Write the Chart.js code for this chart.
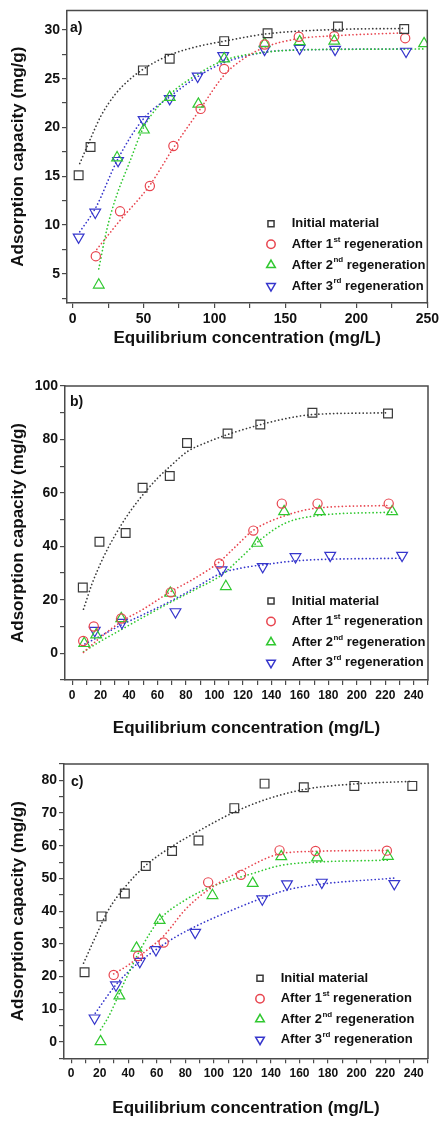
<!DOCTYPE html>
<html><head><meta charset="utf-8">
<script src="https://cdn.jsdelivr.net/npm/chart.js@4.4.0/dist/chart.umd.min.js"></script>
<style>
html,body{margin:0;padding:0;background:#fff;}
body{width:442px;height:1122px;position:relative;overflow:hidden;}
canvas{position:absolute;left:0;}
</style></head><body>
<canvas id="ca" width="442" height="350" style="top:0px"></canvas>
<canvas id="cb" width="442" height="390" style="top:350px"></canvas>
<canvas id="cc" width="442" height="382" style="top:740px"></canvas>
<script>
// ---------- Legend / text ----------
const seriesMain = ['Initial material', 'After 1', 'After 2', 'After 3'];
const seriesSup  = ['', 'st', 'nd', 'rd'];
const seriesTail = ['', ' regeneration', ' regeneration', ' regeneration'];
const xTitle = 'Equilibrium concentration (mg/L)';
const yTitle = 'Adsorption capacity (mg/g)';

// ---------- Panel a ----------
const aInitX = [4.2, 12.6, 49.5, 68.4, 106.8, 137.4, 187.0, 233.7];
const aInitY = [15.1, 18.0, 25.85, 27.05, 28.85, 29.65, 30.35, 30.1];
const aR1X = [16.3, 33.4, 54.4, 71.0, 90.2, 106.8, 135.3, 159.4, 184.4, 234.4];
const aR1Y = [6.8, 11.4, 14.0, 18.1, 21.9, 26.0, 28.5, 29.3, 29.35, 29.15];
const aR2X = [18.4, 31.3, 50.2, 68.4, 88.6, 106.8, 135.3, 160.0, 184.4, 247.7];
const aR2Y = [3.85, 16.9, 19.75, 23.1, 22.4, 27.05, 28.6, 28.8, 28.85, 28.6];
const aR3X = [4.2, 15.9, 32.0, 50.0, 68.4, 88.1, 106.1, 135.3, 160.0, 185.0, 235.0];
const aR3Y = [8.75, 11.3, 16.6, 20.8, 22.95, 25.25, 27.35, 28.0, 28.1, 28.0, 27.8];
// fitted curves
const aFitInitX = [5, 13, 20, 30, 40, 50, 68, 88, 107, 137, 187, 234];
const aFitInitY = [16.3, 19.0, 21.2, 23.4, 24.9, 26.0, 27.4, 28.3, 28.85, 29.6, 30.05, 30.15];
const aFitR1X = [17, 33, 54, 71, 90, 107, 120, 135, 159, 184, 234];
const aFitR1Y = [7.5, 10.4, 14.0, 17.9, 21.9, 25.4, 27.0, 28.2, 29.1, 29.4, 29.7];
const aFitR2X = [18.4, 24, 30, 40, 50, 68, 88.6, 107, 135, 160, 185, 249];
const aFitR2Y = [5.5, 9.5, 12.6, 16.4, 20.0, 23.3, 25.5, 26.9, 27.7, 27.95, 28.0, 28.05];
const aFitR3X = [5, 16, 32, 50, 68, 88, 106, 135, 160, 235];
const aFitR3Y = [9.3, 11.7, 16.8, 20.9, 23.1, 25.2, 26.6, 27.7, 27.95, 28.05];
const aXMajor = [0, 50, 100, 150, 200, 250];
const aXMinor = [25, 75, 125, 175, 225];
const aYMajor = [5, 10, 15, 20, 25, 30];
const aYMinor = [2.5, 7.5, 12.5, 17.5, 22.5, 27.5];

// ---------- Panel b ----------
const bInitX = [7.5, 19.2, 37.6, 49.5, 68.6, 80.7, 109.2, 132.2, 168.8, 221.9];
const bInitY = [24.6, 41.7, 45.0, 61.9, 66.3, 78.7, 82.2, 85.6, 90.0, 89.7];
const bR1X = [7.8, 15.2, 34.5, 69.3, 103.3, 127.3, 147.3, 172.4, 222.4];
const bR1Y = [4.6, 10.0, 13.0, 22.8, 33.6, 45.9, 56.0, 56.0, 56.0];
const bR2X = [8.5, 16.9, 34.5, 69.0, 108.0, 130.0, 148.9, 173.8, 224.8];
const bR2Y = [3.7, 6.9, 13.0, 22.5, 25.0, 41.2, 53.0, 53.0, 53.0];
const bR3X = [15.9, 35.0, 72.6, 105.0, 133.9, 156.9, 181.3, 231.8];
const bR3Y = [8.5, 11.5, 15.5, 31.2, 32.4, 36.1, 36.6, 36.6];
const bFitInitX = [8, 14, 21.6, 30, 40, 50, 60, 70, 81, 95, 109, 132, 155, 169, 222];
const bFitInitY = [16.5, 26, 35.5, 44, 52.5, 59.5, 65.5, 70.5, 75.5, 79, 81.8, 85.5, 88.3, 89.3, 90.0];
const bFitR1X = [8, 20, 35, 50, 69, 86, 103, 115, 127, 148, 172, 222];
const bFitR1Y = [0.3, 6, 12, 16.5, 23, 28, 34, 40, 45.9, 51.2, 54.3, 55.3];
const bFitR2X = [8, 20, 34, 50, 70, 87, 105, 118, 130, 149, 172, 225];
const bFitR2Y = [0.6, 4.5, 8.7, 13.5, 19.3, 24, 29.3, 35.5, 41.5, 48.5, 51.5, 52.8];
const bFitR3X = [9, 20, 34.5, 50, 71, 88, 105, 120, 134, 160, 232];
const bFitR3Y = [3.5, 6.5, 10.6, 14.5, 20, 25, 30, 32, 33.1, 34.7, 35.6];
const bXMajor = [0, 20, 40, 60, 80, 100, 120, 140, 160, 180, 200, 220, 240];
const bXMinor = [10, 30, 50, 70, 90, 110, 130, 150, 170, 190, 210, 230, 250];
const bYMajor = [0, 20, 40, 60, 80, 100];
const bYMinor = [-10, 10, 30, 50, 70, 90];

// ---------- Panel c ----------
const cInitX = [9.4, 21.3, 37.6, 52.3, 70.7, 89.2, 114.3, 135.5, 163.0, 198.4, 239.0];
const cInitY = [21.3, 38.4, 45.4, 53.8, 58.4, 61.6, 71.5, 79.0, 77.9, 78.3, 78.3];
const cR1X = [29.8, 46.9, 64.8, 96.0, 119.0, 146.0, 171.2, 221.2];
const cR1Y = [20.5, 26.3, 30.4, 48.8, 51.1, 58.6, 58.4, 58.5];
const cR2X = [20.6, 33.8, 45.8, 62.0, 99.0, 127.2, 147.2, 172.3, 221.9];
const cR2Y = [0.1, 14.1, 28.7, 37.2, 44.8, 48.5, 56.7, 56.3, 56.8];
const cR3X = [16.4, 31.4, 48.1, 59.4, 86.9, 133.9, 151.2, 175.6, 226.4];
const cR3Y = [7.3, 17.4, 24.6, 28.2, 33.5, 43.7, 48.3, 48.8, 48.4];
const cFitInitX = [8.7, 16.9, 26.3, 37.6, 52.3, 70.7, 89.2, 114.3, 136.7, 163, 198.4, 239];
const cFitInitY = [24.1, 32, 40.5, 47.3, 54, 59.8, 64.5, 70.3, 74.2, 77.2, 78.9, 79.7];
const cFitR1X = [29.8, 40, 50, 65, 80, 96, 119, 146, 171, 221];
const cFitR1Y = [20.8, 23.5, 27, 32.5, 40.5, 46.5, 52.3, 57.5, 58.3, 58.6];
const cFitR2X = [20.6, 26.3, 38, 49.7, 62, 80.3, 99, 127, 147, 172, 222];
const cFitR2Y = [3.7, 7.8, 19, 29.2, 37.4, 43.5, 47.6, 51.5, 54, 55, 55.6];
const cFitR3X = [16.9, 31.4, 48.1, 59.4, 72, 86.9, 113.2, 133.9, 151.2, 175.6, 226.4];
const cFitR3Y = [8.8, 17.5, 24.6, 28.2, 31.8, 35.3, 40.4, 44, 46.5, 48.3, 50.1];
const cXMajor = bXMajor;
const cXMinor = bXMinor;
const cYMajor = [0, 10, 20, 30, 40, 50, 60, 70, 80];
const cYMinor = [-5, 5, 15, 25, 35, 45, 55, 65, 75, 85];

// ---------- styling ----------
const FONT = '"Liberation Sans", Arial, Helvetica, sans-serif';
const colors = ['#3a3a3a', '#e8454f', '#30c830', '#3636cc'];
const styles = [
  {pointStyle: 'rect', radius: 6.2, rotation: 0},
  {pointStyle: 'circle', radius: 4.6, rotation: 0},
  {pointStyle: 'triangle', radius: 6.2, rotation: 0},
  {pointStyle: 'triangle', radius: 6.2, rotation: 180}
];
const legendStyles = [
  {pointStyle: 'rect', radius: 4.3, rotation: 0},
  {pointStyle: 'circle', radius: 4.2, rotation: 0},
  {pointStyle: 'triangle', radius: 5, rotation: 0},
  {pointStyle: 'triangle', radius: 5, rotation: 180}
];

function zip(xs, ys) { return xs.map((x, i) => ({x: x, y: ys[i]})); }

function pointSet(i, xs, ys) {
  return {
    data: zip(xs, ys), showLine: false, order: 1,
    pointStyle: styles[i].pointStyle, rotation: styles[i].rotation,
    pointRadius: styles[i].radius, pointBorderWidth: 1.2,
    pointBorderColor: colors[i], pointBackgroundColor: 'rgba(0,0,0,0)',
    borderColor: colors[i], backgroundColor: 'rgba(0,0,0,0)'
  };
}
function curveSet(i, xs, ys) {
  return {
    data: zip(xs, ys), showLine: true, order: 2, pointRadius: 0,
    borderColor: colors[i], borderWidth: 1.7, borderDash: [0.1, 3.6],
    borderCapStyle: 'round', cubicInterpolationMode: 'monotone', fill: false
  };
}

const panelPlugin = {
  id: 'panelDeco',
  afterDraw(chart, args, o) {
    const ctx = chart.ctx, a = chart.chartArea;
    ctx.save();
    ctx.strokeStyle = '#4a4a4a'; ctx.lineWidth = 1.5;
    ctx.beginPath();
    ctx.moveTo(a.left - 0.75, a.top); ctx.lineTo(a.right, a.top); ctx.lineTo(a.right, a.bottom + 0.75);
    ctx.stroke();
    ctx.fillStyle = '#111';
    ctx.textBaseline = 'middle'; ctx.textAlign = 'left';
    ctx.font = 'bold 14px ' + FONT;
    ctx.fillText(o.letter, o.lx, o.ly);
    for (let i = 0; i < 4; i++) {
      const y = o.rows[i];
      ctx.strokeStyle = colors[i]; ctx.fillStyle = 'rgba(0,0,0,0)';
      Chart.helpers.drawPoint(ctx, {pointStyle: legendStyles[i].pointStyle, rotation: legendStyles[i].rotation,
        radius: legendStyles[i].radius, borderWidth: 1}, o.sx, y);
      ctx.fillStyle = '#111';
      ctx.font = 'bold 13px ' + FONT;
      let x = o.tx;
      ctx.fillText(seriesMain[i], x, y);
      x += ctx.measureText(seriesMain[i]).width;
      if (seriesSup[i]) {
        ctx.font = 'bold 8px ' + FONT;
        ctx.fillText(seriesSup[i], x + 0.5, y - 5);
        x += ctx.measureText(seriesSup[i]).width + 0.5;
        ctx.font = 'bold 13px ' + FONT;
        ctx.fillText(seriesTail[i], x, y);
      }
    }
    ctx.restore();
  }
};

function makeAxis(axis, cfg) {
  const isX = axis === 'x';
  const major = isX ? cfg.xMajor : cfg.yMajor;
  const minor = isX ? cfg.xMinor : cfg.yMinor;
  return {
    type: 'linear',
    min: isX ? cfg.xmin : cfg.ymin,
    max: isX ? cfg.xmax : cfg.ymax,
    border: {display: true, color: '#4a4a4a', width: 1.5},
    grid: {drawOnChartArea: false, drawTicks: true, tickLength: 5, color: '#4a4a4a', tickColor: '#4a4a4a', lineWidth: 1.2},
    afterBuildTicks(scale) {
      const vals = major.concat(minor).filter(v => v >= scale.min - 1e-9 && v <= scale.max + 1e-9).sort((p, q) => p - q);
      scale.ticks = vals.map(v => ({value: v}));
    },
    afterFit(scale) {
      if (isX) scale.height = cfg.xH; else scale.width = cfg.yW;
    },
    ticks: {
      autoSkip: false, maxRotation: 0, minRotation: 0,
      color: '#111',
      padding: isX ? 3 : 2,
      font: {family: FONT, weight: 'bold', size: isX ? cfg.xTickSize : 14},
      callback: (v) => major.indexOf(v) >= 0 ? String(v) : ''
    },
    title: {
      display: true, text: isX ? xTitle : yTitle, color: '#111',
      font: {family: FONT, weight: 'bold', size: 17},
      padding: isX ? {top: 0, bottom: cfg.xTitlePad} : {top: 8.5, bottom: 0}
    }
  };
}

function makePanel(id, cfg, sets) {
  const datasets = [];
  for (let i = 0; i < 4; i++) datasets.push(curveSet(i, sets.fits[i][0], sets.fits[i][1]));
  for (let i = 0; i < 4; i++) datasets.push(pointSet(i, sets.pts[i][0], sets.pts[i][1]));
  return new Chart(document.getElementById(id), {
    type: 'scatter',
    data: {datasets: datasets},
    options: {
      responsive: false, animation: false, devicePixelRatio: 1, events: [],
      layout: {padding: {top: cfg.padTop, right: cfg.padRight, left: 0, bottom: 0}},
      plugins: {legend: {display: false}, tooltip: {enabled: false},
        panelDeco: {letter: cfg.letter, lx: cfg.lx, ly: cfg.ly, sx: cfg.sx, tx: cfg.tx, rows: cfg.rows}},
      scales: {x: makeAxis('x', cfg), y: makeAxis('y', cfg)}
    },
    plugins: [panelPlugin]
  });
}

makePanel('ca', {
  padTop: 7, padRight: 14, yW: 67, xH: 47, xTitlePad: 1.8, xTickSize: 14,
  xmin: -4, xmax: 250, ymin: 2, ymax: 32,
  xMajor: aXMajor, xMinor: aXMinor, yMajor: aYMajor, yMinor: aYMinor,
  letter: 'a)', lx: 70, ly: 28, sx: 271, tx: 291.7, rows: [223.7, 244.3, 265, 286]
}, {
  pts: [[aInitX, aInitY], [aR1X, aR1Y], [aR2X, aR2Y], [aR3X, aR3Y]],
  fits: [[aFitInitX, aFitInitY], [aFitR1X, aFitR1Y], [aFitR2X, aFitR2Y], [aFitR3X, aFitR3Y]]
});

makePanel('cb', {
  padTop: 36, padRight: 14, yW: 65, xH: 60, xTitlePad: 1.8, xTickSize: 12,
  xmin: -5, xmax: 250, ymin: -10, ymax: 100,
  xMajor: bXMajor, xMinor: bXMinor, yMajor: bYMajor, yMinor: bYMinor,
  letter: 'b)', lx: 70, ly: 52, sx: 271, tx: 291.7, rows: [251, 271.5, 292.3, 312.8]
}, {
  pts: [[bInitX, bInitY], [bR1X, bR1Y], [bR2X, bR2Y], [bR3X, bR3Y]],
  fits: [[bFitInitX, bFitInitY], [bFitR1X, bFitR1Y], [bFitR2X, bFitR2Y], [bFitR3X, bFitR3Y]]
});

makePanel('cc', {
  padTop: 24, padRight: 14, yW: 64, xH: 63.7, xTitlePad: 3.8, xTickSize: 12,
  xmin: -5, xmax: 250, ymin: -5, ymax: 85,
  xMajor: cXMajor, xMinor: cXMinor, yMajor: cYMajor, yMinor: cYMinor,
  letter: 'c)', lx: 71, ly: 41.7, sx: 260, tx: 280.7, rows: [238.3, 258.7, 279.3, 299.7]
}, {
  pts: [[cInitX, cInitY], [cR1X, cR1Y], [cR2X, cR2Y], [cR3X, cR3Y]],
  fits: [[cFitInitX, cFitInitY], [cFitR1X, cFitR1Y], [cFitR2X, cFitR2Y], [cFitR3X, cFitR3Y]]
});
</script>
</body></html>
